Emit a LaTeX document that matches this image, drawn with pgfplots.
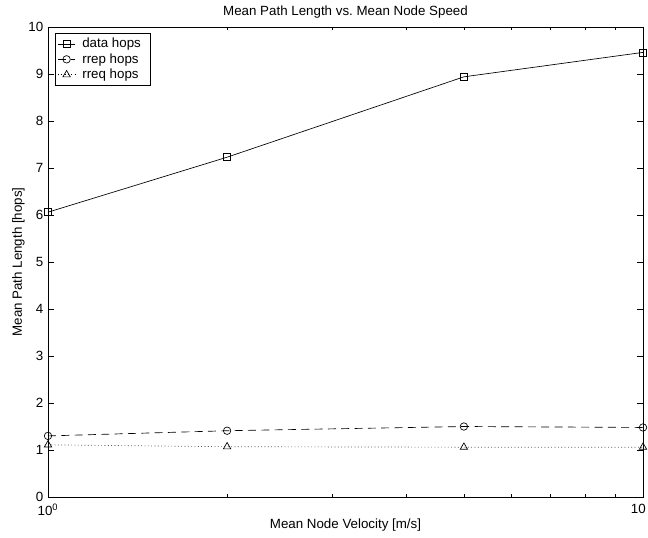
\documentclass[border=0pt]{standalone}
\usepackage{pgfplots}
\pgfplotsset{compat=1.18}
\usepackage{fontspec}
\setmainfont{Liberation Sans}
\begin{document}
\begin{tikzpicture}
\path[use as bounding box] (-36pt,-30pt) rectangle (450pt,372.75pt);
\begin{axis}[
  at={(0,0)}, anchor=south west,
  scale only axis, width=446.25pt, height=352.5pt,
  xmode=log, xmin=1, xmax=10, ymin=0, ymax=10,
  xtick={1,10}, xticklabels={10\textsuperscript{0},{\hspace*{-7pt}10}},
  minor xtick={2,3,4,5,6,7,8,9},
  ytick={0,1,...,10},
  /pgf/number format/assume math mode=true,
  tick align=inside, tick pos=both,
  major tick length=4.5pt, minor tick length=2.5pt,
  every tick/.style={black, line width=0.5pt},
  axis line style={line width=0.6pt},
  font=\fontsize{10}{12}\selectfont,
  ticklabel style={font=\fontsize{10}{12}\selectfont},
  xticklabel style={yshift=-1.5pt},
  title style={font=\fontsize{10}{12}\selectfont, yshift=-3pt},
  label style={font=\fontsize{10}{12}\selectfont},
  title={Mean Path Length vs.\ Mean Node Speed},
  xlabel={Mean Node Velocity [m/s]},
  ylabel={Mean Path Length [hops]},
  xlabel style={yshift=4pt},
  ylabel style={yshift=-4pt},
  legend style={at={(0.011,0.987)}, anchor=north west, draw=black, line width=0.5pt,
     font=\fontsize{10}{12}\selectfont, inner xsep=2pt, inner ysep=1.5pt, row sep=-1.2pt,
     nodes={inner xsep=5pt}, cells={anchor=west}},
  legend image code/.code={\draw[mark repeat=2,mark phase=2,#1] plot coordinates {(0cm,0cm) (0.23cm,0cm) (0.46cm,0cm)};},
  legend cell align=left,
]
\addplot[black, line width=0.5pt, mark=square, mark size=2.6pt, mark options={solid}] coordinates {(1,6.06) (2,7.23) (5,8.94) (10,9.46)};
\addlegendentry{data hops}
\addplot[black, line width=0.5pt, dash pattern=on 6pt off 4pt, mark=o, mark size=2.8pt, mark options={solid}] coordinates {(1,1.30) (2,1.41) (5,1.50) (10,1.48)};
\addlegendentry{rrep hops}
\addplot[black, line width=0.5pt, dotted, mark=triangle, mark size=3.2pt, mark options={solid}] coordinates {(1,1.11) (2,1.07) (5,1.06) (10,1.06)};
\addlegendentry{rreq hops}
\end{axis}
\end{tikzpicture}
\end{document}
